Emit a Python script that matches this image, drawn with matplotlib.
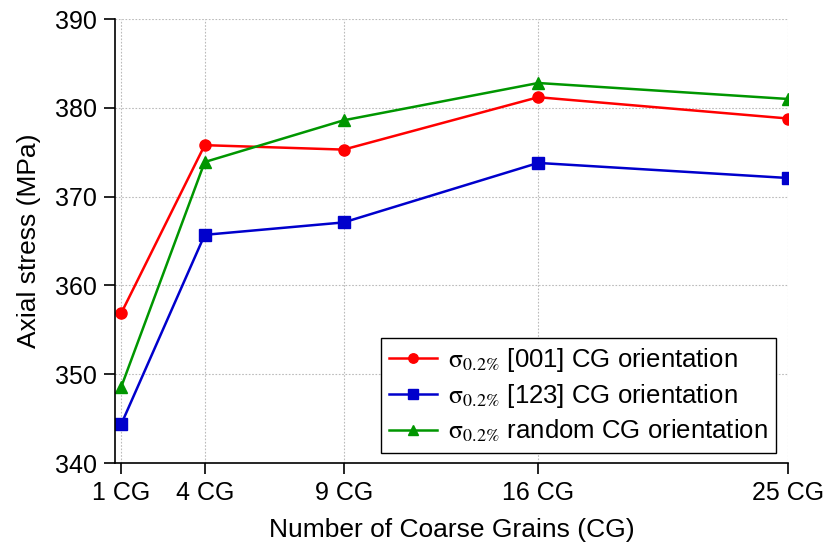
import matplotlib
matplotlib.use("Agg")
import matplotlib.pyplot as plt

plt.rcParams['font.family'] = ['Liberation Sans', 'DejaVu Sans']
plt.rcParams['mathtext.fontset'] = 'stix'

x_vals = [1, 4, 9, 16, 25]
x_labels = ["1 CG", "4 CG", "9 CG", "16 CG", "25 CG"]
s001 = [356.9, 375.8, 375.3, 381.2, 378.8]
s123 = [344.4, 365.7, 367.1, 373.8, 372.1]
srand = [348.6, 373.9, 378.6, 382.8, 381.0]
labels = [r"$\mathrm{σ_{0.2\%}}$ [001] CG orientation",
          r"$\mathrm{σ_{0.2\%}}$ [123] CG orientation",
          r"$\mathrm{σ_{0.2\%}}$ random CG orientation"]

fig = plt.figure(figsize=(8.27, 5.48), dpi=100)
ax = fig.add_axes([0.1387, 0.155, 0.8145, 0.8102])

ax.plot(x_vals, s001, color='#ff0000', marker='o', markersize=8, lw=1.8, label=labels[0])
ax.plot(x_vals, s123, color='#0000cc', marker='s', markersize=8, lw=1.8, label=labels[1])
ax.plot(x_vals, srand, color='#009600', marker='^', markersize=8.5, lw=1.8, label=labels[2])

ax.set_xlim(0.762, 25)
ax.set_ylim(340, 390)
ax.set_xticks(x_vals)
ax.set_xticklabels(x_labels)
ax.set_yticks([340, 350, 360, 370, 380, 390])
ax.tick_params(direction='out', length=8, width=1.2, labelsize=18, pad=5)
ax.spines['top'].set_visible(False)
ax.spines['right'].set_visible(False)
ax.spines['left'].set_linewidth(1.2)
ax.spines['bottom'].set_linewidth(1.2)
ax.grid(True, linestyle=(0, (1.5, 1.5)), color='#bbbbbb', linewidth=0.8)
ax.set_axisbelow(True)

ax.set_xlabel("Number of Coarse Grains (CG)", fontsize=19, labelpad=9)
ax.set_ylabel("Axial stress (MPa)", fontsize=19, labelpad=10)

leg = ax.legend(loc='lower right', bbox_to_anchor=(0.99, 0.012), fontsize=18.5,
                fancybox=False, framealpha=1, edgecolor='black',
                handlelength=1.85, borderpad=0.33, labelspacing=0.3, handletextpad=0.45,
                borderaxespad=0.2, markerscale=0.85)
leg.get_frame().set_linewidth(1.0)

fig.savefig("out.png", dpi=100)
